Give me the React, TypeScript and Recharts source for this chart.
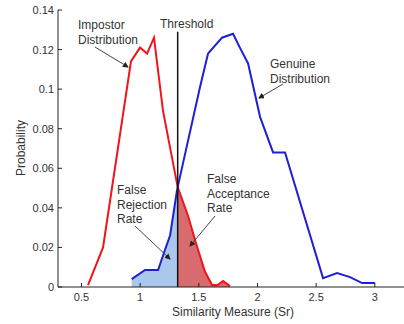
import React from "react";
import { ComposedChart, Line, Area, XAxis, YAxis } from "recharts";

// similarity measure (Sr) vs probability
const impostorX = [0.556, 0.684, 0.922, 0.999, 1.059, 1.118, 1.195, 1.32, 1.408, 1.482, 1.553, 1.613, 1.66, 1.707, 1.766];
const impostorY = [0.001, 0.02, 0.114, 0.121, 0.118, 0.126, 0.089, 0.0505, 0.036, 0.021, 0.0077, 0.001, 0.001, 0.003, 0.0005];

const genuineX = [0.928, 1.042, 1.153, 1.206, 1.255, 1.312, 1.32, 1.51, 1.579, 1.698, 1.792, 1.85, 1.92, 2.022, 2.133, 2.235, 2.559, 2.678, 2.789, 2.892, 3.002];
const genuineY = [0.004, 0.0086, 0.0086, 0.0178, 0.026, 0.048, 0.0505, 0.101, 0.118, 0.126, 0.128, 0.121, 0.113, 0.086, 0.068, 0.068, 0.0045, 0.007, 0.005, 0.002, 0.002];

const threshold = 1.32;
const thresholdTop = 0.129;

const xTicks = [0.5, 1, 1.5, 2, 2.5, 3];
const yTicks = [0, 0.02, 0.04, 0.06, 0.08, 0.1, 0.12, 0.14];

const impostor = impostorX.map((x, i) => ({ x, y: impostorY[i] }));
const genuine = genuineX.map((x, i) => ({ x, y: genuineY[i] }));
const farArea = impostor.filter((d) => d.x >= threshold);
const frrArea = genuine.filter((d) => d.x <= threshold);
const thresholdLine = [
  { x: threshold, y: 0 },
  { x: threshold, y: thresholdTop },
];

const FONT = '"Liberation Sans", Arial, sans-serif';
const AXIS = "#222";
const TEXT = "#333";

function BottomTick({ x, y, payload }: any) {
  return (
    <g>
      <line x1={x} y1={y} x2={x} y2={y - 4} stroke={AXIS} />
      <text x={x} y={y + 14} textAnchor="middle" fontSize={11} fontFamily={FONT} fill={TEXT}>
        {String(payload.value)}
      </text>
    </g>
  );
}

function TopTick({ x, y }: any) {
  return <line x1={x} y1={y} x2={x} y2={y + 4} stroke={AXIS} />;
}

function LeftTick({ x, y, payload }: any) {
  return (
    <g>
      <line x1={x} y1={y} x2={x + 4} y2={y} stroke={AXIS} />
      <text x={x - 4} y={y + 4} textAnchor="end" fontSize={11} fontFamily={FONT} fill={TEXT}>
        {String(payload.value)}
      </text>
    </g>
  );
}

function Arrow({ x1, y1, x2, y2 }: { x1: number; y1: number; x2: number; y2: number }) {
  return <line x1={x1} y1={y1} x2={x2} y2={y2} stroke="#444" strokeWidth={1} markerEnd="url(#arrowhead)" />;
}

function Note({ x, y, lines }: { x: number; y: number; lines: string[] }) {
  return (
    <text x={x} y={y} fontSize={12} fontFamily={FONT} fill={TEXT}>
      {lines.map((l, i) => (
        <tspan key={i} x={x} dy={i === 0 ? 0 : 14.5}>
          {l}
        </tspan>
      ))}
    </text>
  );
}

export default function App() {
  return (
    <div style={{ position: "relative", width: 404, height: 324, overflow: "hidden", background: "#fff" }}>
      <style>{"body{margin:0}"}</style>
      <ComposedChart width={420} height={324} margin={{ top: 10, right: 10, left: 8, bottom: 7 }}>
        <XAxis
          type="number"
          dataKey="x"
          domain={[0.3, 3.3]}
          ticks={xTicks}
          allowDataOverflow
          height={30}
          tickSize={0}
          tickMargin={0}
          tick={<BottomTick />}
          axisLine={{ stroke: AXIS }}
        />
        <XAxis
          xAxisId="top"
          orientation="top"
          type="number"
          dataKey="x"
          domain={[0.3, 3.3]}
          ticks={xTicks}
          allowDataOverflow
          height={0}
          tickSize={0}
          tickMargin={0}
          tick={<TopTick />}
          axisLine={{ stroke: AXIS }}
        />
        <YAxis
          type="number"
          dataKey="y"
          domain={[0, 0.14]}
          ticks={yTicks}
          allowDataOverflow
          width={50}
          tickSize={0}
          tickMargin={0}
          tick={<LeftTick />}
          axisLine={{ stroke: AXIS }}
        />
        <Area data={frrArea} dataKey="y" type="linear" stroke="none" fill="#a9c8ec" fillOpacity={1} isAnimationActive={false} />
        <Area data={farArea} dataKey="y" type="linear" stroke="none" fill="#d86b6e" fillOpacity={1} isAnimationActive={false} />
        <Line data={impostor} dataKey="y" type="linear" stroke="#f0141c" strokeWidth={2} dot={false} isAnimationActive={false} />
        <Line data={genuine} dataKey="y" type="linear" stroke="#1f1fd6" strokeWidth={2} dot={false} isAnimationActive={false} />
        <Line data={thresholdLine} dataKey="y" type="linear" stroke="#111" strokeWidth={1.5} dot={false} isAnimationActive={false} />
      </ComposedChart>
      <svg width={404} height={324} style={{ position: "absolute", left: 0, top: 0, pointerEvents: "none" }}>
        <defs>
          <marker id="arrowhead" markerWidth="6" markerHeight="6" refX="5" refY="3" orient="auto" markerUnits="userSpaceOnUse">
            <path d="M0,0 L6,3 L0,6 Z" fill="#222" />
          </marker>
        </defs>
        <Note x={78} y={29} lines={["Impostor", "Distribution"]} />
        <Arrow x1={95} y1={47} x2={128} y2={67} />
        <Note x={160} y={28} lines={["Threshold"]} />
        <Note x={270} y={68} lines={["Genuine", "Distribution"]} />
        <Arrow x1={283} y1={84} x2={259} y2={98} />
        <Note x={117} y={194} lines={["False", "Rejection", "Rate"]} />
        <Arrow x1={135} y1={226} x2={170} y2={259} />
        <Note x={207} y={183} lines={["False", "Acceptance", "Rate"]} />
        <Arrow x1={215} y1={216} x2={190} y2={246} />
        <text x={233} y={316} textAnchor="middle" fontSize={12} fontFamily={FONT} fill={TEXT}>
          Similarity Measure (Sr)
        </text>
        <text
          x={25}
          y={148}
          textAnchor="middle"
          fontSize={12}
          fontFamily={FONT}
          fill={TEXT}
          transform="rotate(-90 25 148)"
        >
          Probability
        </text>
      </svg>
    </div>
  );
}
